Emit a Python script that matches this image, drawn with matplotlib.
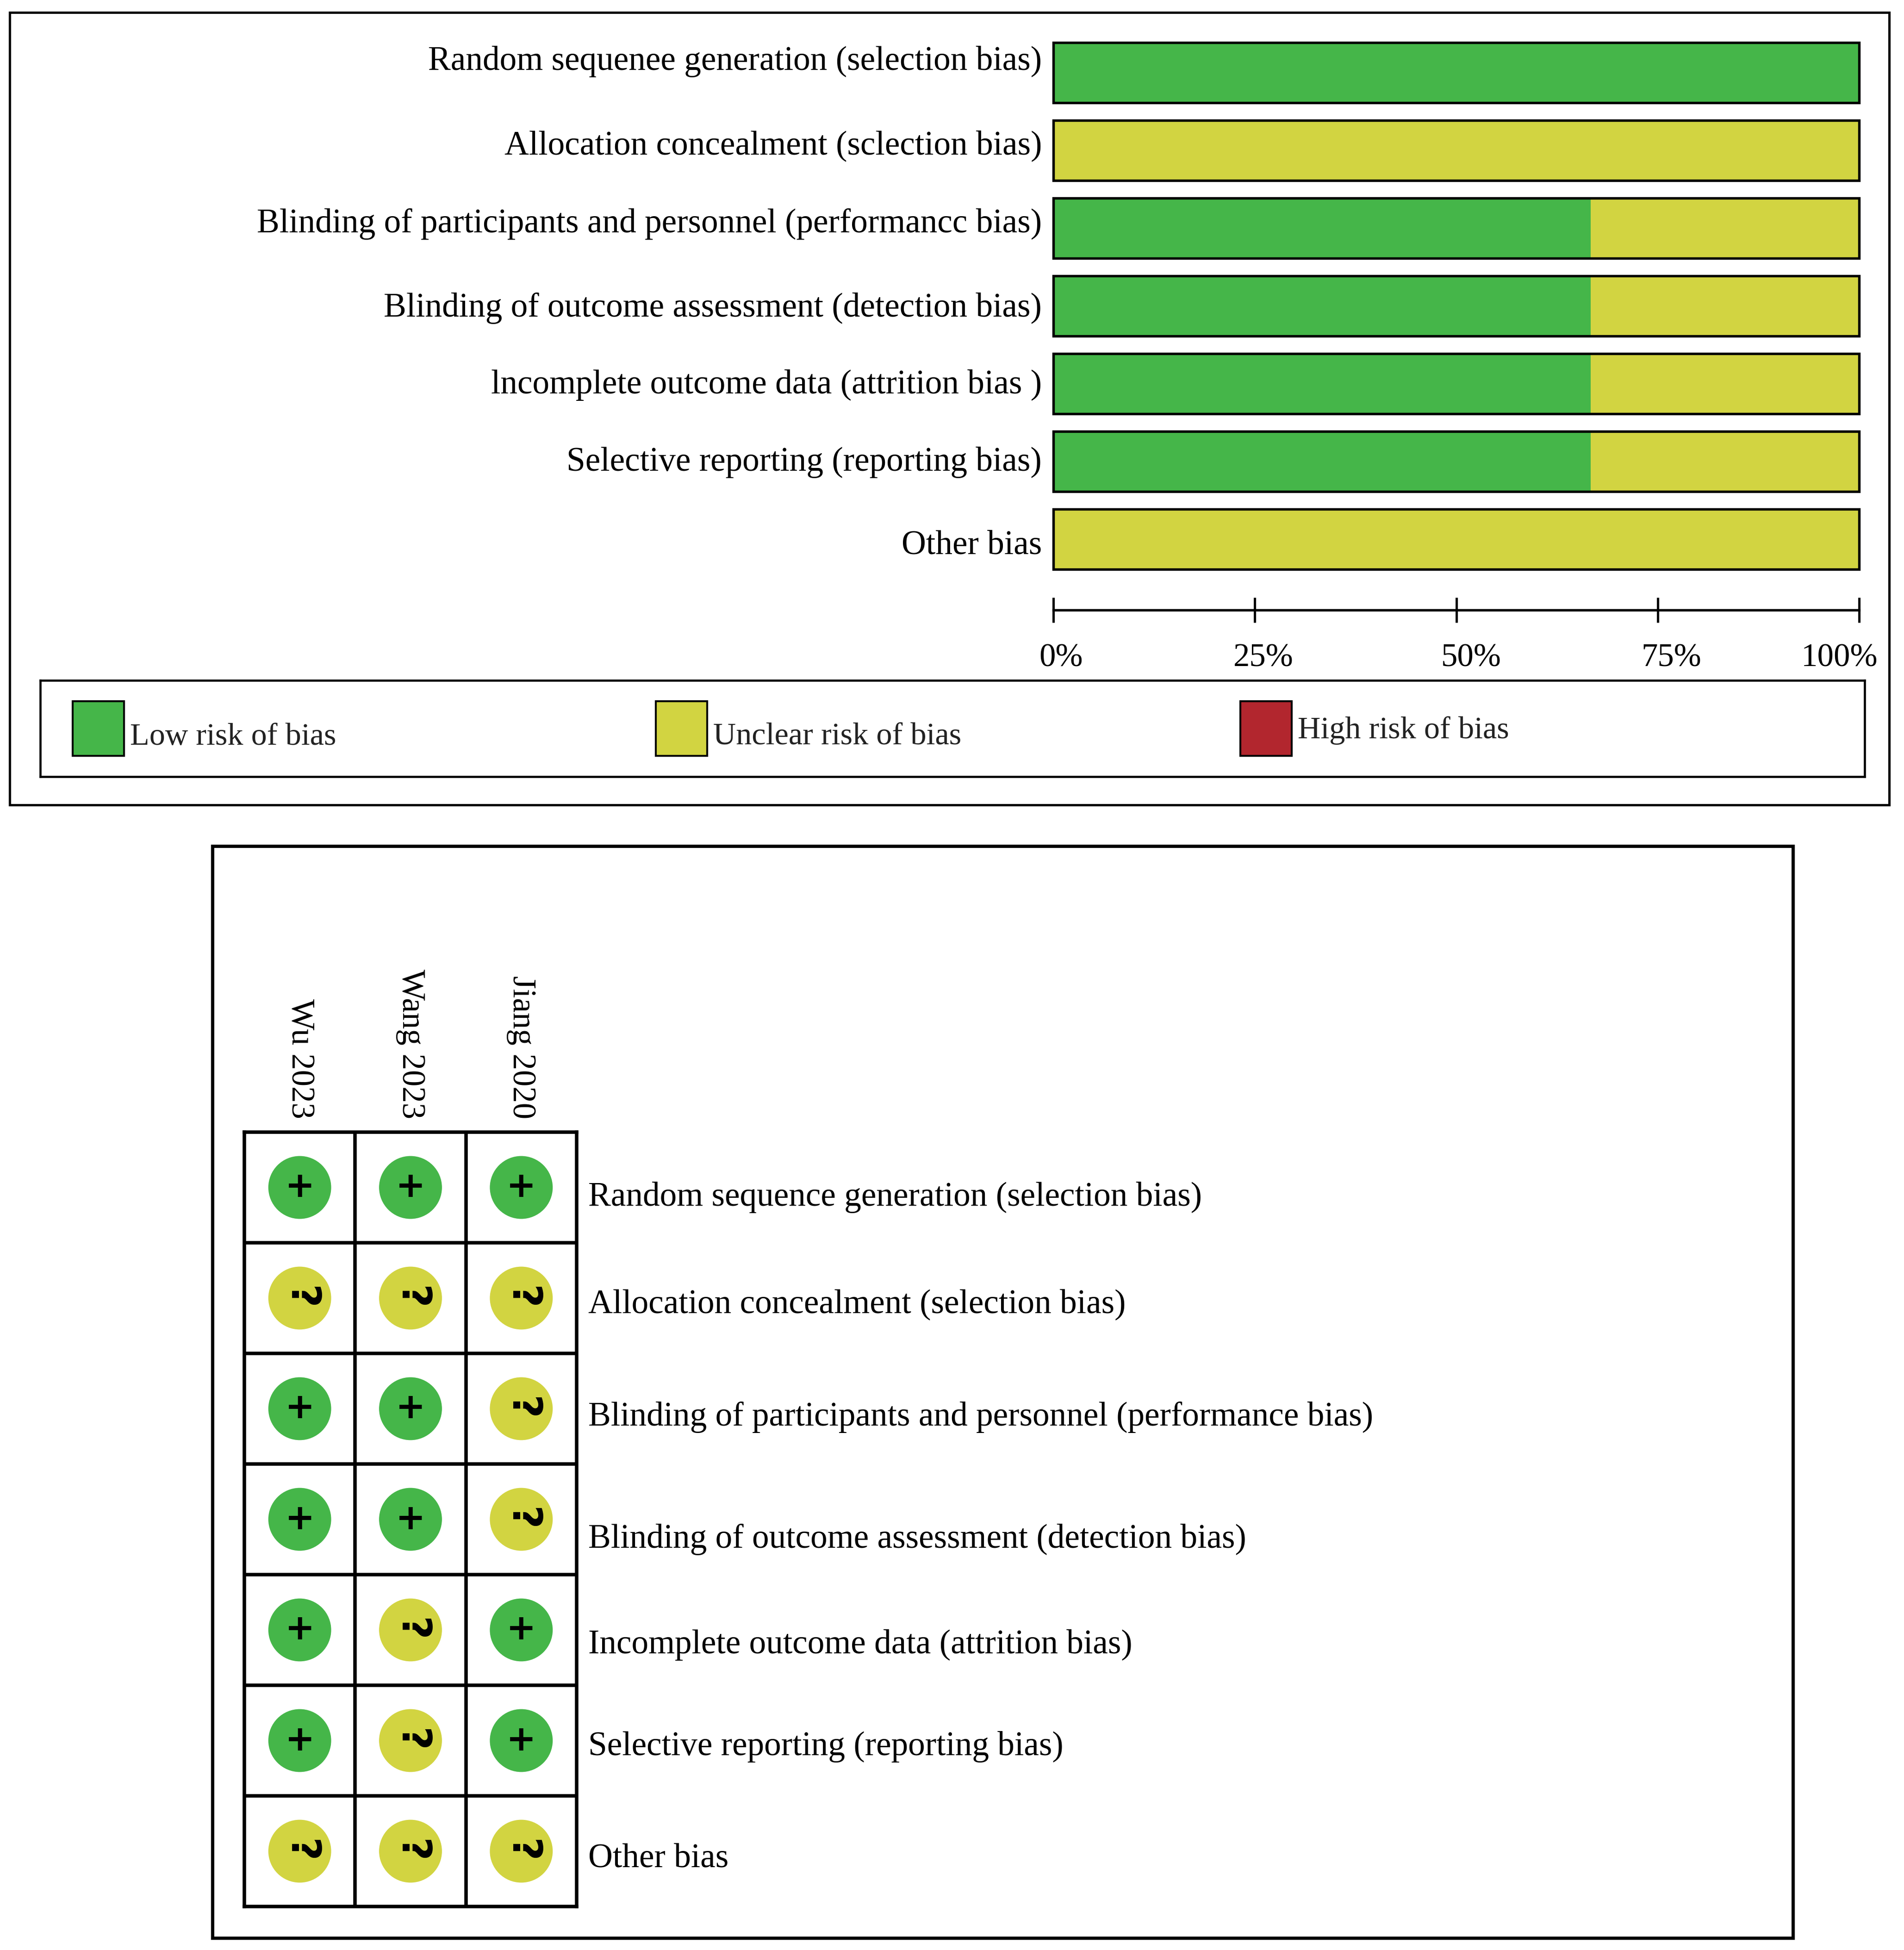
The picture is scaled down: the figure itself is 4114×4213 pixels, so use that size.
import matplotlib.pyplot as plt
import matplotlib.patches as mpatches
import matplotlib.transforms as mtransforms
from matplotlib.legend import Legend
import numpy as np

plt.rcParams['font.family'] = ['Liberation Serif', 'DejaVu Serif']

# ---- data: risk of bias summary (top panel) ----
top_domains = [
    "Random sequenee generation (selection bias)",
    "Allocation concealment (sclection bias)",
    "Blinding of participants and personnel (performancc bias)",
    "Blinding of outcome assessment (detection bias)",
    "lncomplete outcome data (attrition bias )",
    "Selective reporting (reporting bias)",
    "Other bias",
]
low_pct = [100, 0, 66.7, 66.7, 66.7, 66.7, 0]
unclear_pct = [0, 100, 33.3, 33.3, 33.3, 33.3, 100]
high_pct = [0, 0, 0, 0, 0, 0, 0]
pct_ticks = [0, 25, 50, 75, 100]
pct_labels = ["0%", "25%", "50%", "75%", "100%"]
risk_labels = ["Low risk of bias", "Unclear risk of bias", "High risk of bias"]

# ---- data: risk of bias graph per study (bottom panel) ----
grid_domains = [
    "Random sequence generation (selection bias)",
    "Allocation concealment (selection bias)",
    "Blinding of participants and personnel (performance bias)",
    "Blinding of outcome assessment (detection bias)",
    "Incomplete outcome data (attrition bias)",
    "Selective reporting (reporting bias)",
    "Other bias",
]
studies = ["Wu 2023", "Wang 2023", "Jiang 2020"]
wu_2023 = ["+", "?", "+", "+", "+", "+", "?"]
wang_2023 = ["+", "?", "+", "+", "?", "?", "?"]
jiang_2020 = ["+", "?", "?", "?", "+", "+", "?"]

GREEN = '#45b649'
YELLOW = '#d2d441'
RED = '#b2262e'
judge_color = {"+": GREEN, "?": YELLOW, "-": RED}

W, H, DPI = 4114, 4213, 300
fig = plt.figure(figsize=(W / DPI, H / DPI), dpi=DPI)


def px_axes(x0, y0, x1, y1):
    # axes placed by pixel box (top-left origin)
    return fig.add_axes([x0 / W, 1 - y1 / H, (x1 - x0) / W, (y1 - y0) / H])


def frame_only(a, lw):
    a.set_xticks([])
    a.set_yticks([])
    a.set_facecolor('none')
    for s in a.spines.values():
        s.set_linewidth(lw)


def nudge(labels, dx_pts, dy_pts):
    # small hand placement of labels, as in the original figure
    for lbl, dx, dy in zip(labels, dx_pts, dy_pts):
        off = mtransforms.ScaledTranslation(dx / 72, dy / 72, fig.dpi_scale_trans)
        lbl.set_transform(lbl.get_transform() + off)


# outer frame of top panel
top_frame = px_axes(21, 27, 4082, 1739)
frame_only(top_frame, 1.2)

# stacked bars
ax = px_axes(2276, 73, 4017, 1249)
y = np.arange(len(top_domains))
bh = 0.774
ax.barh(y, low_pct, height=bh, color=GREEN, linewidth=0)
ax.barh(y, unclear_pct, left=low_pct, height=bh, color=YELLOW, linewidth=0)
ax.barh(y, high_pct, left=np.add(low_pct, unclear_pct), height=bh, color=RED, linewidth=0)
total = np.add(np.add(low_pct, unclear_pct), high_pct)
outline = ax.barh(y, total, height=bh, fill=False, edgecolor='black', linewidth=1.3)
for p in outline:
    p.set_clip_on(False)
ax.set_xlim(0, 100)
ax.set_ylim(len(top_domains) - 0.5, -0.5)
ax.set_facecolor('none')
ax.set_yticks(y, top_domains, fontsize=17.6)
ax.tick_params(axis='y', length=0, pad=6)
for side in ['left', 'right', 'top']:
    ax.spines[side].set_visible(False)
ax.spines['bottom'].set_position(('outward', 16.6))
ax.spines['bottom'].set_linewidth(1.3)
ax.set_xticks(pct_ticks, pct_labels, fontsize=17)
ax.tick_params(axis='x', direction='inout', length=13, width=1.2, pad=10.5)
nudge(ax.get_yticklabels(), [0] * 7, [7.7, 4.3, 4.1, 0.7, 1.2, 1.4, -1.4])
nudge(ax.get_xticklabels(), [3.9, 4.5, 7.7, 7.1, -10.3], [0] * 5)

# legend box
lax = px_axes(87, 1470, 4029, 1678)
frame_only(lax, 1.1)
for label, color, xpx, dy in zip(risk_labels, [GREEN, YELLOW, RED],
                                 [157, 1417, 2680], [-3.2, -3.2, 0]):
    h = mpatches.Patch(facecolor=color, edgecolor='black', linewidth=1.0)
    leg = Legend(lax, [h], [label], loc='center left',
                 bbox_to_anchor=((xpx - 87) / 3942, 0.5), frameon=False,
                 fontsize=16.4, handlelength=1.62, handleheight=2.26,
                 handletextpad=0.2, borderpad=0, borderaxespad=0)
    for t in leg.get_texts():
        t.set_color('#222222')
        t.set_transform(t.get_transform() + mtransforms.ScaledTranslation(
            0, dy / 72, fig.dpi_scale_trans))
    lax.add_artist(leg)

# outer frame of bottom panel
bot_frame = px_axes(459, 1828, 3874, 4187)
frame_only(bot_frame, 1.7)

# traffic-light grid
gax = px_axes(528, 2446, 1246, 4119)
judgements = [wu_2023, wang_2023, jiang_2020]
for col, marks in enumerate(judgements):
    rows = np.arange(len(marks))
    gax.scatter(np.full(len(marks), col), rows, s=1063,
                c=[judge_color[m] for m in marks], linewidths=0, zorder=3)
    for row, m in zip(rows, marks):
        gax.text(col, row, m, ha='center', va='center',
                 fontsize=18.5 if m == "+" else 21,
                 fontweight='bold', family='DejaVu Sans',
                 rotation=0 if m == "+" else 270, zorder=4)
gax.set_xlim(-0.5, len(studies) - 0.5)
gax.set_ylim(len(grid_domains) - 0.5, -0.5)
gax.set_xticks(range(len(studies)), studies)
gax.tick_params(axis='x', top=True, bottom=False, labeltop=True, labelbottom=False,
                length=0, pad=7, labelrotation=270, labelsize=17)
gax.set_yticks(range(len(grid_domains)), grid_domains)
gax.yaxis.tick_right()
gax.tick_params(axis='y', length=0, pad=6, labelsize=17.6)
gax.set_xticks(np.arange(0.5, len(studies) - 1), minor=True)
gax.set_yticks(np.arange(0.5, len(grid_domains) - 1), minor=True)
gax.tick_params(which='minor', length=0)
gax.grid(which='minor', color='black', linewidth=1.8)
gax.set_axisbelow(True)
for s in gax.spines.values():
    s.set_linewidth(1.8)
nudge(gax.get_yticklabels(), [0] * 7, [-3.2, -1.3, -2.6, -8.4, -5.8, -1.3, -1.9])

fig.savefig('out.png', dpi=DPI)
